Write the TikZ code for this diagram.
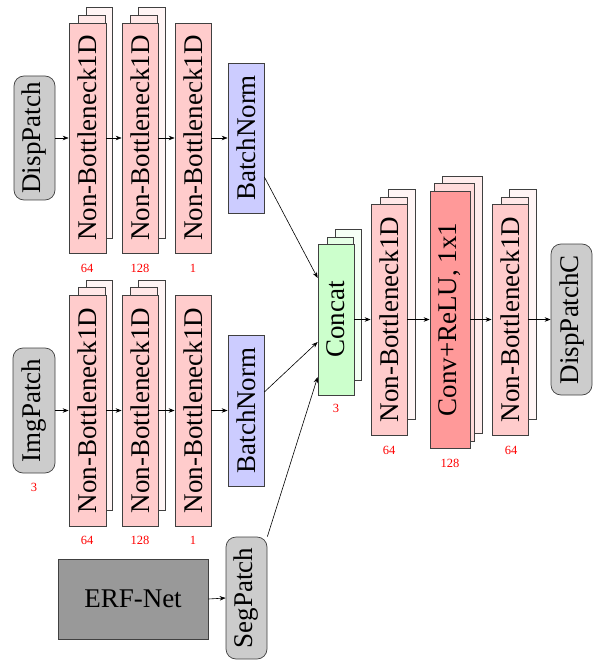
\documentclass[tikz,border=0pt]{standalone}
\usepackage{fontspec}
\setmainfont{Liberation Serif}
\usepackage{graphicx}
\usetikzlibrary{arrows.meta,calc}
\newcommand\vtxt[1]{\rotatebox{90}{#1}}
\tikzset{
  blk/.style={draw=black!75, line width=0.7pt, inner sep=0pt, font=\fontsize{27}{29}\selectfont},
  nbf/.style={blk, fill=red!20},
  nbb1/.style={draw=black!75, line width=0.7pt, fill=red!9},
  nbb2/.style={draw=black!75, line width=0.7pt, fill=red!4},
  ccf/.style={blk, fill=green!20},
  ccb1/.style={draw=black!75, line width=0.7pt, fill=green!10},
  ccb2/.style={draw=black!75, line width=0.7pt, fill=green!4},
  cvf/.style={blk, fill=red!40},
  cvb1/.style={draw=black!75, line width=0.7pt, fill=red!14},
  cvb2/.style={draw=black!75, line width=0.7pt, fill=red!7},
  bnf/.style={blk, fill=blue!20},
  patch/.style={blk, fill=black!20, rounded corners=10pt},
  erf/.style={blk, fill=black!40},
  lbl/.style={text=red, inner sep=0pt, font=\fontsize{12.5}{13}\selectfont},
  arr/.style={-{Stealth[length=6pt,width=4.5pt]}, line width=0.6pt, black},
}
\begin{document}
\begin{tikzpicture}[x=1pt,y=-1pt]
\useasboundingbox (0,0) rectangle (593,660);

% ---------- back layers ----------
% top row
\draw[nbb2] (86,7) rectangle (112,238);
\draw[nbb1] (78,15) rectangle (105,245);
\draw[nbb2] (138,7) rectangle (165,238);
\draw[nbb1] (130,15) rectangle (157,245);
% bottom row
\draw[nbb2] (86,280) rectangle (112,510);
\draw[nbb1] (78,287) rectangle (105,518);
\draw[nbb2] (138,280) rectangle (165,510);
\draw[nbb1] (130,287) rectangle (157,518);
% concat
\draw[ccb2] (335,229) rectangle (361,380);
\draw[ccb1] (327,237) rectangle (353,388);
% nb after concat
\draw[nbb2] (388,189) rectangle (415,419);
\draw[nbb1] (380,197) rectangle (407,427);
% conv
\draw[cvb2] (442,176) rectangle (482,433);
\draw[cvb1] (434,183) rectangle (474,441);
% last nb
\draw[nbb2] (509,189) rectangle (536,419);
\draw[nbb1] (501,197) rectangle (528,427);

% ---------- top row ----------
\node[patch, minimum width=41, minimum height=124] (dp) at (34.5,138) {\vtxt{DispPatch}};
\node[nbf, minimum width=37, minimum height=230] (nba1) at (87.5,138) {\vtxt{Non-Bottleneck1D}};
\node[nbf, minimum width=36, minimum height=230] (nba2) at (140,138) {\vtxt{Non-Bottleneck1D}};
\node[nbf, minimum width=36, minimum height=230] (nba3) at (193,138) {\vtxt{Non-Bottleneck1D}};
\node[bnf, minimum width=36, minimum height=150] (bna) at (246,138) {\vtxt{BatchNorm}};
\node[lbl] (la1) at (87,268) {64};
\node[lbl] (la2) at (140,268) {128};
\node[lbl] (la3) at (193,268) {1};

% ---------- bottom row ----------
\node[patch, minimum width=42, minimum height=125] (ip) at (34,410.5) {\vtxt{ImgPatch}};
\node[nbf, minimum width=37, minimum height=231] (nbb1) at (87.5,410.5) {\vtxt{Non-Bottleneck1D}};
\node[nbf, minimum width=36, minimum height=231] (nbb2) at (140,410.5) {\vtxt{Non-Bottleneck1D}};
\node[nbf, minimum width=36, minimum height=231] (nbb3) at (193,410.5) {\vtxt{Non-Bottleneck1D}};
\node[bnf, minimum width=36, minimum height=151] (bnb) at (246,410.5) {\vtxt{BatchNorm}};
\node[lbl] (lb0) at (34,487) {3};
\node[lbl] (lb1) at (87,540) {64};
\node[lbl] (lb2) at (140,540) {128};
\node[lbl] (lb3) at (193,540) {1};

% ---------- ERF-Net / SegPatch ----------
\node[erf, minimum width=150, minimum height=80] (erf) at (133,599) {ERF-Net};
\node[patch, minimum width=41, minimum height=122] (sp) at (246.5,598) {\vtxt{SegPatch}};

% ---------- right part ----------
\node[ccf, minimum width=36, minimum height=151] (cc) at (336,319.5) {\vtxt{Concat}};
\node[nbf, minimum width=36, minimum height=231] (nbc) at (389,319.5) {\vtxt{Non-Bottleneck1D}};
\node[cvf, minimum width=40, minimum height=257] (cv) at (450,319.5) {\vtxt{Conv+ReLU, 1x1}};
\node[nbf, minimum width=36, minimum height=231] (nbd) at (510,319.5) {\vtxt{Non-Bottleneck1D}};
\node[patch, minimum width=41, minimum height=151] (dpc) at (571.5,319.5) {\vtxt{DispPatchC}};
\node[lbl] (lc0) at (336,408) {3};
\node[lbl] (lc1) at (389,450) {64};
\node[lbl] (lc2) at (450,463) {128};
\node[lbl] (lc3) at (511,450) {64};

% ---------- connectors ----------
\draw[arr] (dp.east) -- (nba1.west);
\draw[arr] (nba1.east) -- (nba2.west);
\draw[arr] (nba2.east) -- (nba3.west);
\draw[arr] (nba3.east) -- (bna.west);
\draw[arr] (ip.east) -- (nbb1.west);
\draw[arr] (nbb1.east) -- (nbb2.west);
\draw[arr] (nbb2.east) -- (nbb3.west);
\draw[arr] (nbb3.east) -- (bnb.west);
\draw[arr] (erf.east) -- (sp.west);
\draw[arr] ([yshift=-39pt]bna.east) -- ([yshift=41.5pt]cc.west);
\draw[arr] ([yshift=18.5pt]bnb.east) -- ([yshift=-22.5pt]cc.west);
\draw[arr] (sp.north east) -- ([yshift=-57.5pt]cc.west);
\draw[arr] (cc.east) -- (nbc.west);
\draw[arr] (nbc.east) -- (cv.west);
\draw[arr] (cv.east) -- (nbd.west);
\draw[arr] (nbd.east) -- (dpc.west);
\end{tikzpicture}
\end{document}
